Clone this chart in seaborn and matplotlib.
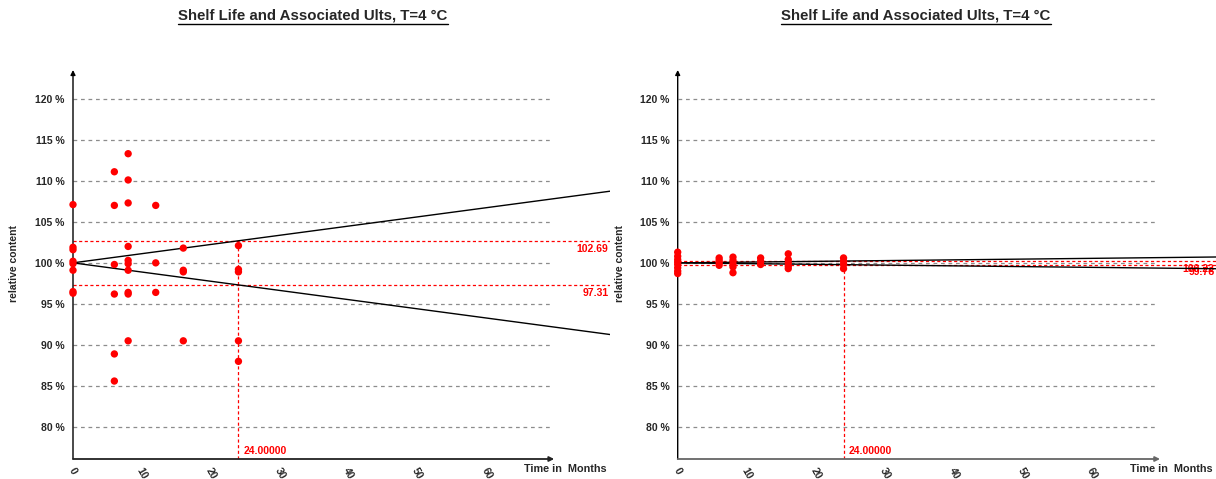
import numpy as np
import pandas as pd
import matplotlib
matplotlib.use("Agg")
import matplotlib.pyplot as plt
import seaborn as sns
from matplotlib.lines import Line2D

# ---- data -------------------------------------------------------------
title = "Shelf Life and Associated Ults, T=4 °C"
y_ticks = [80, 85, 90, 95, 100, 105, 110, 115, 120]
x_ticks = [0, 10, 20, 30, 40, 50, 60]

# panel A: measured relative content per storage time (months)
months_a = [0, 0, 0, 0, 0, 0, 0, 0,
            6, 6, 6, 6, 6, 6,
            8, 8, 8, 8, 8, 8, 8, 8, 8, 8,
            12, 12, 12,
            16, 16, 16, 16,
            24, 24, 24, 24, 24]
content_a = [107.1, 101.9, 101.6, 100.2, 99.9, 99.1, 96.5, 96.3,
             111.1, 107.0, 99.8, 96.2, 88.9, 85.6,
             113.3, 110.1, 107.3, 102.0, 100.3, 99.9, 99.1, 96.4, 96.2, 90.5,
             107.0, 100.0, 96.4,
             101.8, 99.1, 98.9, 90.5,
             102.1, 99.2, 98.9, 90.5, 88.0]
upper_a, lower_a = 102.69, 97.31

# panel B
months_b = [0, 0, 0, 0, 0, 0, 0, 0,
            6, 6, 6, 6,
            8, 8, 8, 8, 8,
            12, 12, 12,
            16, 16, 16, 16, 16,
            24, 24, 24, 24]
content_b = [101.3, 100.8, 100.4, 100.1, 99.8, 99.4, 99.0, 98.7,
             100.6, 100.3, 100.0, 99.7,
             100.7, 100.3, 99.9, 99.5, 98.8,
             100.6, 100.2, 99.8,
             101.1, 100.4, 100.0, 99.6, 99.3,
             100.6, 100.2, 99.8, 99.3]
upper_b, lower_b = 100.22, 99.78

shelf_life = 24.0
start_level = 100.0

# ---- style ------------------------------------------------------------
sns.set_style("white")
plt.rcParams["font.family"] = ["Liberation Sans", "DejaVu Sans"]
plt.rcParams["font.weight"] = "bold"

RED = "#ff0000"
XMAX, YMIN, YMAX = 77.9, 76.1, 123.5
GRID_END = 69.4

fig = plt.figure(figsize=(12.16, 4.79), dpi=100)
W, H = 1216, 479


def panel(left_px, right_px, months, content, upper, lower, xaxis_color):
    ax = fig.add_axes([left_px / W, 20 / H, (right_px - left_px) / W, 389 / H])
    ax.set_xlim(0, XMAX)
    ax.set_ylim(YMIN, YMAX)
    for s in ax.spines.values():
        s.set_visible(False)

    # dashed horizontal grid
    for yv in y_ticks:
        ax.plot([0, GRID_END], [yv, yv], color="#8c8c8c", lw=0.9,
                ls=(0, (3, 3)), zorder=1)

    # axes with arrow heads
    ax.annotate("", xy=(0, YMAX), xytext=(0, YMIN),
                arrowprops=dict(arrowstyle="-|>", color="black", lw=1.0,
                                mutation_scale=7, shrinkA=0, shrinkB=0),
                annotation_clip=False, zorder=3)
    ax.annotate("", xy=(GRID_END + 0.4, YMIN), xytext=(0, YMIN),
                arrowprops=dict(arrowstyle="-|>", color=xaxis_color, lw=1.3,
                                mutation_scale=7, shrinkA=0, shrinkB=0),
                annotation_clip=False, zorder=3)

    # ticks
    ax.set_yticks(y_ticks)
    ax.set_yticklabels([f"{v} %" for v in y_ticks], fontsize=7.5,
                       fontweight="bold")
    ax.set_xticks(x_ticks)
    ax.set_xticklabels([str(v) for v in x_ticks], fontsize=7.5,
                       fontweight="bold", rotation=-60, ha="center",
                       va="top")
    ax.tick_params(axis="y", length=2, color="#777777", pad=4)
    ax.tick_params(axis="x", length=4, color="black", pad=1, direction="out")

    # confidence bounds spreading from the start level
    t = np.array([0, XMAX])
    ax.plot(t, start_level + (upper - start_level) * t / shelf_life,
            color="black", lw=1.0, zorder=4)
    ax.plot(t, start_level + (lower - start_level) * t / shelf_life,
            color="black", lw=1.0, zorder=4)

    # acceptance limits and shelf-life marker
    for lim in (upper, lower):
        ax.plot([0, XMAX], [lim, lim], color=RED, lw=0.9,
                ls=(0, (2.5, 2)), zorder=2)
        ax.annotate(f"{lim:.2f}", xy=(XMAX, lim), xytext=(-1, -2),
                    textcoords="offset points", ha="right", va="top",
                    color=RED, fontsize=7.5, fontweight="bold",
                    annotation_clip=False)
    ax.plot([shelf_life, shelf_life], [YMIN, upper], color=RED, lw=0.9,
            ls=(0, (2.5, 2)), zorder=2)
    ax.annotate(f"{shelf_life:.5f}", xy=(shelf_life, YMIN), xytext=(4, 2),
                textcoords="offset points", ha="left", va="bottom",
                color=RED, fontsize=7.5, fontweight="bold")

    # measurements
    df = pd.DataFrame({"month": months, "content": content})
    sns.scatterplot(data=df, x="month", y="content", ax=ax, color=RED,
                    s=28, edgecolor="none", zorder=5, clip_on=False)
    ax.set_xlabel("")
    ax.set_ylabel("")

    ax.text(65.4, YMIN - 1.25, "Time in  Months", fontsize=7.8,
            fontweight="bold", ha="left", va="center", clip_on=False)
    return ax


ax_a = panel(73, 610, months_a, content_a, upper_a, lower_a, "#222222")
ax_b = panel(677.7, 1216, months_b, content_b, upper_b, lower_b, "#666666")

# y-axis titles
for xp in (14, 620):
    fig.text(xp / W, 1 - 264 / H, "relative content", rotation=90,
             ha="center", va="center", fontsize=7.5, fontweight="bold")

# underlined titles
titles = []
for xc in (313, 916):
    titles.append(fig.text(xc / W, 1 - 16 / H, title, ha="center",
                           va="center", fontsize=10.8, fontweight="bold"))
fig.canvas.draw()
inv = fig.transFigure.inverted()
for tt in titles:
    bb = tt.get_window_extent(fig.canvas.get_renderer())
    (x0, y0), (x1, _) = inv.transform([(bb.x0, bb.y0), (bb.x1, bb.y1)])
    fig.add_artist(Line2D([x0, x1], [y0 - 0.5 / H, y0 - 0.5 / H],
                          transform=fig.transFigure, color="black", lw=1.0))

fig.savefig("out.png", dpi=100)
